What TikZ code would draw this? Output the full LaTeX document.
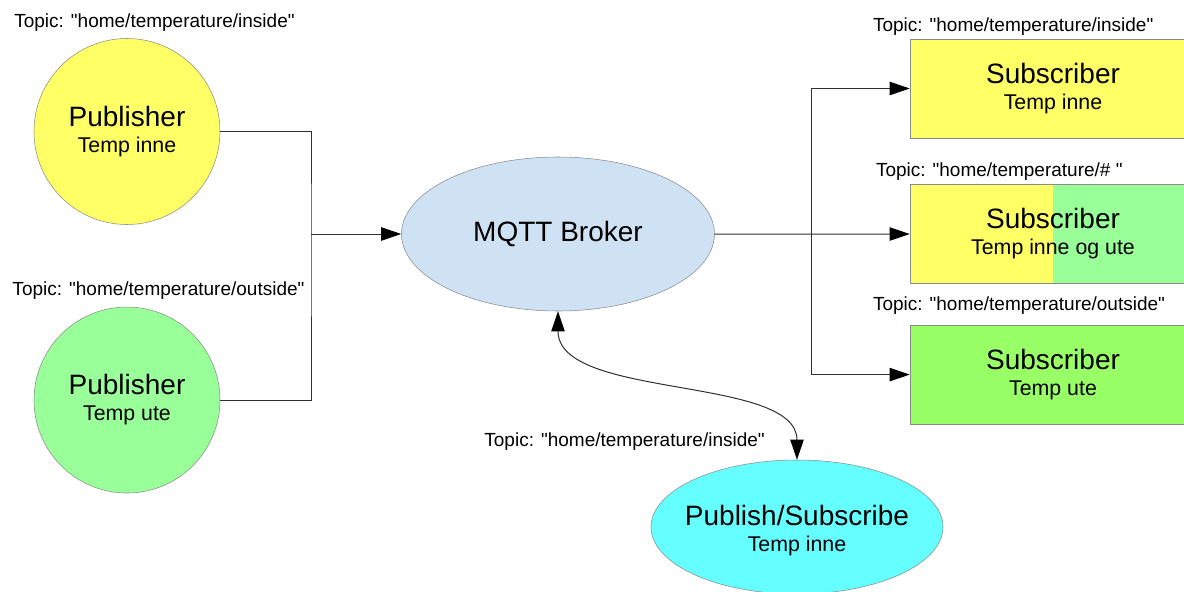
\documentclass[tikz,border=0pt]{standalone}
\usepackage{fontspec}
\setmainfont{Liberation Sans}
\usetikzlibrary{positioning,calc,arrows.meta,shapes.geometric}

\definecolor{pubyellow}{HTML}{FFFF66}
\definecolor{pubgreen}{HTML}{99FF99}
\definecolor{subgreen}{HTML}{99FF66}
\definecolor{brokerblue}{HTML}{CFE2F3}
\definecolor{pscyan}{HTML}{66FFFF}
\definecolor{rimgray}{HTML}{8A8A8A}
\definecolor{wiregray}{HTML}{303030}

% first (large) line of a two-line node
\newcommand{\bigline}[1]{{\fontsize{21}{25}\selectfont #1}}
% straight double quote
\newcommand{\dq}{\textquotedbl}

\begin{document}
\begin{tikzpicture}[x=0.75pt, y=-0.75pt,
         client/.style = {circle, draw=rimgray, minimum size=139.5pt,
         inner sep=0pt, align=center, font=\fontsize{16}{19.5}\selectfont},
         subscriber/.style = {rectangle, draw=rimgray, minimum width=214.5pt,
         minimum height=74.25pt, inner sep=0pt, align=center,
         font=\fontsize{16}{19.5}\selectfont},
         halfsplit/.style = {fill=pubyellow, path picture={\fill[pubgreen]
         (path picture bounding box.north) rectangle
         (path picture bounding box.south east);}},
         hub/.style = {ellipse, draw=rimgray, inner sep=0pt},
         caption/.style = {inner sep=0pt, align=center,
         font=\fontsize{16}{19.5}\selectfont},
         topic/.style = {inner sep=0pt, font=\fontsize{14.25}{17}\selectfont},
         msgflow/.style = {draw=wiregray, line width=0.75pt},
         feed/.style = {msgflow, -{Triangle[length=15pt, width=10pt, color=black]}},
         roundtrip/.style = {msgflow,
         {Triangle[length=15pt, width=10pt, color=black]}-{Triangle[length=15pt, width=10pt, color=black]}}]

   \useasboundingbox (0,0) rectangle (1184,592);
   \clip (0,0) rectangle (1184,592);

   % publishers
   \node[client, fill=pubyellow] (pubin) at (127,131.5)
      {\bigline{Publisher}\\ Temp inne};
   \node[client, fill=pubgreen, below=61.5pt of pubin] (pubout)
      {\bigline{Publisher}\\ Temp ute};

   \node[topic, above=4.9pt of pubin, xshift=20.6pt] (tpin)
      {Topic: \dq home/temperature/inside\dq};
   \node[topic, above=5.25pt of pubout, xshift=23.6pt] (tpout)
      {Topic: \dq home/temperature/outside\dq};

   % broker
   \node[hub, fill=brokerblue, minimum width=234.75pt, minimum height=115.5pt,
      font=\fontsize{21}{25}\selectfont] (broker) at (558,234) {MQTT Broker};

   % subscribers
   \node[subscriber, fill=pubyellow] (subin) at (1053,88.5)
      {\bigline{Subscriber}\\ Temp inne};
   \node[subscriber, halfsplit, below=34.5pt of subin] (subboth)
      {\bigline{Subscriber}\\ Temp inne og ute};
   \node[subscriber, fill=subgreen, below=30.75pt of subboth] (subout)
      {\bigline{Subscriber}\\ Temp ute};

   \node[topic, above right=2pt and -27.75pt of subin.north west] (tsubin)
      {Topic: \dq home/temperature/inside\dq};
   \node[topic, above right=2.5pt and -25.5pt of subboth.north west] (tsubboth)
      {Topic: \dq home/temperature/\# \dq};
   \node[topic, above right=7.2pt and -27.75pt of subout.north west] (tsubout)
      {Topic: \dq home/temperature/outside\dq};

   % client that both publishes and subscribes
   \node[hub, fill=pscyan, minimum width=219pt, minimum height=100.5pt]
      (pubsub) at (797,527) {};
   \node[caption] (pubsubtext) at ($(pubsub)+(0,4)$)
      {\bigline{Publish/Subscribe}\\ Temp inne};
   \node[topic, above left=6.75pt and 24pt of pubsub.north] (tpubsub)
      {Topic: \dq home/temperature/inside\dq};

   % connectors
   \coordinate (join) at (311,234);
   \coordinate (fork) at (811,234);

   \draw[msgflow] (pubin.east) -| (join) |- (pubout.east);
   \draw[feed] (join) -- (broker.west);
   \draw[feed] (broker.east) -- (subboth.west);
   \draw[feed] (fork) |- (subin.west);
   \draw[feed] (fork) |- (subout.west);
   \draw[roundtrip] (broker.south) .. controls (558,400) and (797,375)
      .. (pubsub.north);
\end{tikzpicture}
\end{document}
